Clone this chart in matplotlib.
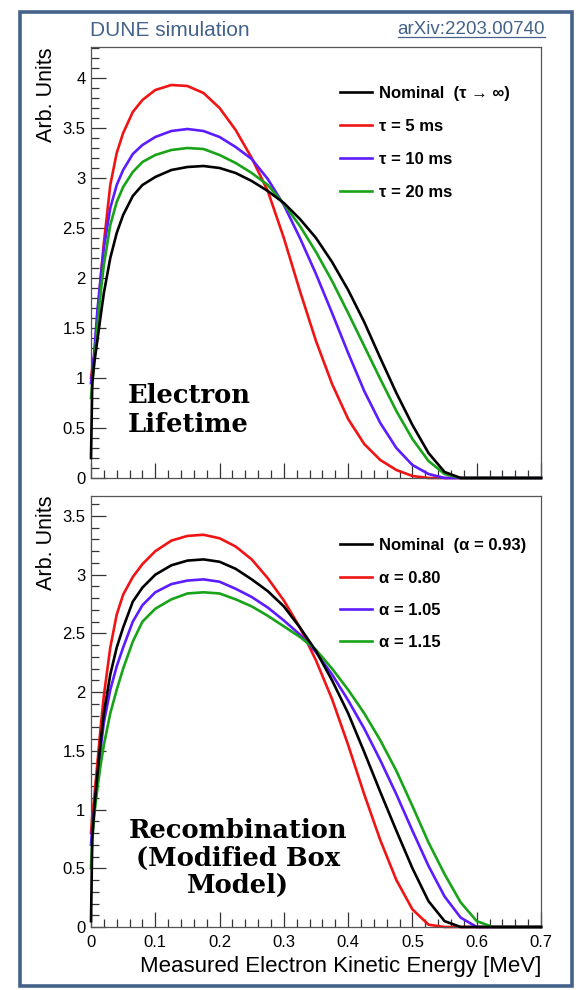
import matplotlib
matplotlib.use("Agg")
import matplotlib.pyplot as plt
from matplotlib.ticker import MultipleLocator
from matplotlib.patches import Rectangle
from matplotlib.lines import Line2D

plt.rcParams['font.family'] = ['Liberation Sans', 'DejaVu Sans']

# measured kinetic energy [MeV], common binning for all spectra
energy = [0, 0.002, 0.005, 0.01, 0.015, 0.02, 0.03, 0.04, 0.05, 0.065, 0.08,
          0.1, 0.125, 0.15, 0.175, 0.2, 0.225, 0.25, 0.275, 0.3, 0.325, 0.35,
          0.375, 0.4, 0.425, 0.45, 0.475, 0.5, 0.525, 0.55, 0.575, 0.6, 0.625,
          0.65, 0.7]

# electron lifetime variations
life_nominal = [0.2, 0.95, 1.15, 1.38, 1.62, 1.85, 2.2, 2.45, 2.63, 2.82, 2.93,
                3.01, 3.08, 3.11, 3.12, 3.10, 3.05, 2.97, 2.87, 2.75, 2.59, 2.40,
                2.16, 1.88, 1.56, 1.20, 0.85, 0.53, 0.25, 0.06, 0, 0, 0,
                0, 0]
life_5ms = [1.0, 1.1, 1.22, 1.6, 2.0, 2.35, 2.93, 3.25, 3.45, 3.66, 3.78,
            3.88, 3.93, 3.92, 3.85, 3.70, 3.48, 3.20, 2.87, 2.40, 1.87, 1.37,
            0.94, 0.59, 0.34, 0.18, 0.08, 0.02, 0, 0, 0, 0, 0,
            0, 0]
life_10ms = [0.95, 1.05, 1.25, 1.68, 2.0, 2.3, 2.7, 2.93, 3.08, 3.24, 3.33,
             3.41, 3.47, 3.49, 3.47, 3.41, 3.31, 3.19, 2.99, 2.73, 2.40, 2.04,
             1.65, 1.25, 0.87, 0.55, 0.30, 0.13, 0.04, 0, 0, 0, 0,
             0, 0]
life_20ms = [0.8, 0.95, 1.15, 1.52, 1.85, 2.13, 2.53, 2.76, 2.91, 3.06, 3.16,
             3.23, 3.28, 3.30, 3.29, 3.23, 3.15, 3.05, 2.93, 2.74, 2.52, 2.26,
             1.97, 1.65, 1.32, 0.99, 0.67, 0.39, 0.17, 0.04, 0, 0, 0,
             0, 0]

# recombination (modified box model) variations
rec_nominal = [0.05, 0.75, 1.0, 1.3, 1.58, 1.82, 2.15, 2.38, 2.55, 2.77, 2.89,
               3.0, 3.08, 3.12, 3.13, 3.11, 3.05, 2.96, 2.86, 2.73, 2.55, 2.35,
               2.1, 1.82, 1.49, 1.15, 0.82, 0.50, 0.22, 0.05, 0, 0, 0,
               0, 0]
rec_080 = [0.8, 0.95, 1.1, 1.4, 1.7, 1.97, 2.38, 2.66, 2.83, 2.98, 3.09,
           3.2, 3.29, 3.33, 3.34, 3.31, 3.24, 3.13, 2.97, 2.78, 2.55, 2.27,
           1.94, 1.55, 1.13, 0.74, 0.40, 0.15, 0.02, 0, 0, 0, 0,
           0, 0]
rec_105 = [0.7, 0.85, 1.0, 1.28, 1.52, 1.74, 2.02, 2.22, 2.38, 2.6, 2.74,
           2.85, 2.92, 2.95, 2.96, 2.94, 2.88, 2.81, 2.72, 2.61, 2.49, 2.34,
           2.15, 1.93, 1.69, 1.42, 1.13, 0.82, 0.52, 0.26, 0.08, 0, 0,
           0, 0]
rec_115 = [0.5, 0.75, 0.95, 1.18, 1.38, 1.55, 1.82, 2.02, 2.2, 2.43, 2.6,
           2.71, 2.79, 2.84, 2.85, 2.84, 2.79, 2.73, 2.65, 2.56, 2.47, 2.36,
           2.2, 2.02, 1.82, 1.59, 1.33, 1.03, 0.72, 0.45, 0.21, 0.05, 0,
           0, 0]

life_labels = ['Nominal  (τ → ∞)', 'τ = 5 ms', 'τ = 10 ms', 'τ = 20 ms']
rec_labels = ['Nominal  (α = 0.93)', 'α = 0.80', 'α = 1.05', 'α = 1.15']
ticks_x = [0, 0.1, 0.2, 0.3, 0.4, 0.5, 0.6, 0.7]
tick_text_x = ['0', '0.1', '0.2', '0.3', '0.4', '0.5', '0.6', '0.7']

BLACK = '#000000'
RED = '#f01414'
BLUE = '#5c1cff'
GREEN = '#18a318'
FRAME = '#44628a'

W, H = 578, 990
fig = plt.figure(figsize=(W / 100, H / 100), dpi=100)

def px_axes(left, top, right, bottom):
    return fig.add_axes([left / W, 1 - bottom / H, (right - left) / W, (bottom - top) / H])

ax1 = px_axes(91, 47, 541, 478)
ax2 = px_axes(91, 496, 541, 927)

def style(ax, ymax):
    ax.set_xlim(0, 0.7)
    ax.set_ylim(0, ymax)
    ax.xaxis.set_major_locator(MultipleLocator(0.1))
    ax.xaxis.set_minor_locator(MultipleLocator(0.02))
    ax.yaxis.set_major_locator(MultipleLocator(0.5))
    ax.yaxis.set_minor_locator(MultipleLocator(0.1))
    ax.tick_params(which='both', direction='in', top=False, right=False,
                   color='#333333', width=0.9)
    ax.tick_params(which='major', length=11, labelsize=12, pad=4)
    ax.tick_params(which='minor', length=5.5)
    for s in ax.spines.values():
        s.set_color('#555555')
        s.set_linewidth(0.9)
    ax.set_yticks([v * 0.5 for v in range(int(ymax / 0.5) + 1)])
    ax.set_yticklabels(['%g' % (v * 0.5) for v in range(int(ymax / 0.5) + 1)])
    ax.set_ylabel('Arb. Units', fontsize=15.5, loc='top')
    ax.yaxis.set_label_coords(-0.075, 1.0)

style(ax1, 4.31)
style(ax2, 3.67)

lw = 1.9
for ax, curves, labels, leg_y, spacing in [
        (ax1, [life_nominal, life_5ms, life_10ms, life_20ms], life_labels, 0.909, 1.08),
        (ax2, [rec_nominal, rec_080, rec_105, rec_115], rec_labels, 0.902, 1.04)]:
    colors = [BLACK, RED, BLUE, GREEN]
    handles = []
    for vals, c, lab, z in zip(curves, colors, labels, [5, 2, 3, 4]):
        h, = ax.plot(energy, vals, color=c, lw=lw, label=lab, zorder=z,
                     clip_on=False, solid_joinstyle='round')
        handles.append(h)
    ax.legend(handles=handles, loc='upper left', bbox_to_anchor=(0.553, leg_y),
              frameon=False, borderpad=0, borderaxespad=0, handlelength=1.95,
              handletextpad=0.38, labelspacing=spacing,
              prop={'size': 12, 'weight': 'bold'})

ax1.set_xticks(ticks_x)
ax1.set_xticklabels([])
ax2.set_xticks(ticks_x)
ax2.set_xticklabels(tick_text_x)
ax2.tick_params(axis='x', which='major', pad=6)
ax2.set_xlabel('Measured Electron Kinetic Energy [MeV]', fontsize=16, loc='right')
ax2.xaxis.set_label_coords(1.0, -0.067)

ax1.text(0.082, 0.158, 'Electron\nLifetime', transform=ax1.transAxes,
         ha='left', va='center', multialignment='left', fontsize=18.5,
         fontweight='bold', family='DejaVu Serif', linespacing=1.18)
ax2.text(0.327, 0.16, 'Recombination\n(Modified Box\nModel)', transform=ax2.transAxes,
         ha='center', va='center', multialignment='center', fontsize=18.5,
         fontweight='bold', family='DejaVu Serif', linespacing=1.12)

# header and frame
fig.text(90 / W, 1 - 30 / H, 'DUNE simulation', fontsize=15, color=FRAME,
         ha='left', va='center')
arx = fig.text(545 / W, 1 - 30 / H, 'arXiv:2203.00740', fontsize=13.5, color=FRAME,
               ha='right', va='center')
fig.add_artist(Rectangle((20 / W, 1 - 986 / H), 552 / W, 974 / H,
                         transform=fig.transFigure, fill=False,
                         edgecolor=FRAME, linewidth=2.6))

fig.canvas.draw()
bb = arx.get_window_extent().transformed(fig.transFigure.inverted())
fig.add_artist(Line2D([bb.x0, bb.x1], [bb.y0 + 1.5 / H, bb.y0 + 1.5 / H],
                      transform=fig.transFigure, color=FRAME, lw=0.9))

fig.savefig('out.png', dpi=100, facecolor='white')
